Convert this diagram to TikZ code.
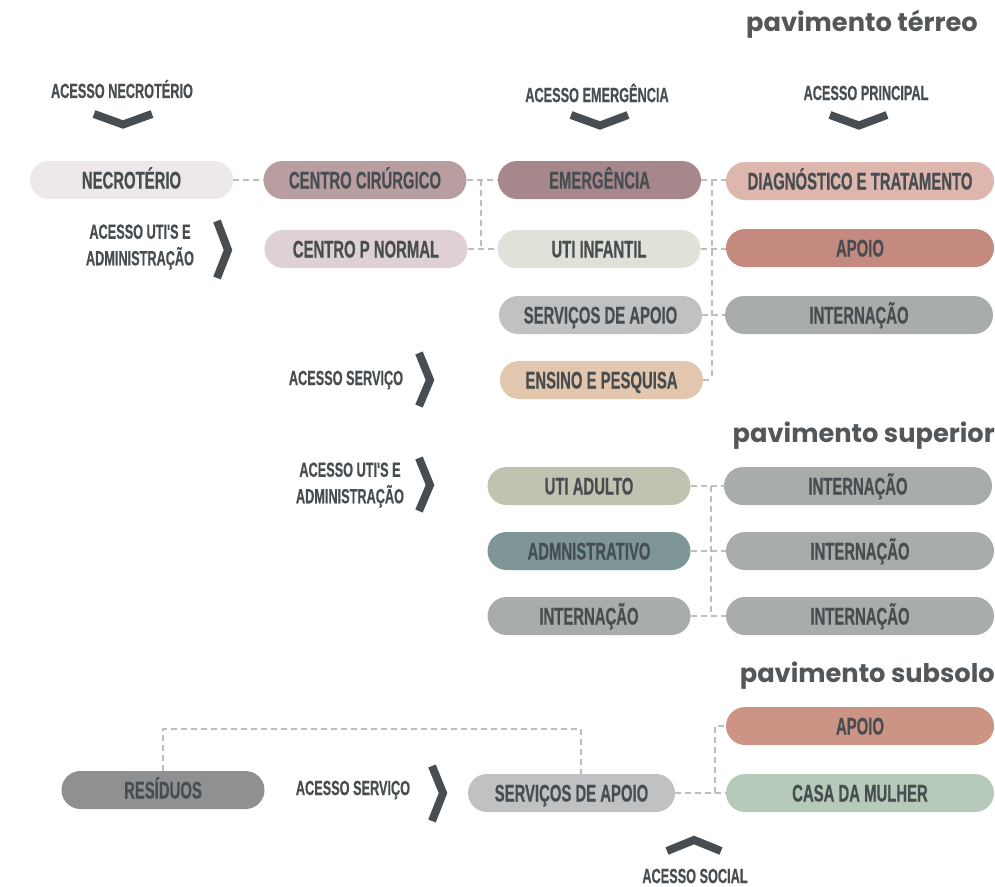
\documentclass[tikz,border=0pt]{standalone}
\usepackage{fontspec}
\newfontfamily\salafont{Liberation Sans}[UprightFont=* Bold,FakeStretch=0.62,FakeBold=0.5]
\newfontfamily\titulofont{Poppins}[UprightFont=* Bold]
\definecolor{texto}{HTML}{474D50}
\definecolor{titulo}{HTML}{53575A}
\definecolor{linha}{HTML}{BAC1B7}
\definecolor{cNecro}{HTML}{EDE8E9}
\definecolor{cCirurg}{HTML}{B99EA1}
\definecolor{cEmerg}{HTML}{A6888C}
\definecolor{cDiag}{HTML}{DDB6AE}
\definecolor{cParto}{HTML}{DFD1D3}
\definecolor{cUtiInf}{HTML}{E0E2DA}
\definecolor{cApoio}{HTML}{C48A80}
\definecolor{cServ}{HTML}{C0C1C3}
\definecolor{cIntern}{HTML}{A8ADAA}
\definecolor{cEnsino}{HTML}{E2C6AE}
\definecolor{cUtiAd}{HTML}{C1C3B0}
\definecolor{cAdm}{HTML}{7F9697}
\definecolor{cApoioSub}{HTML}{CB9484}
\definecolor{cResid}{HTML}{8F9092}
\definecolor{cCasa}{HTML}{B6CAB9}

\begin{document}
\begin{tikzpicture}[x=1pt,y=-1pt,
  sala/.style={rounded corners=19pt, minimum width=203pt, minimum height=38pt, inner sep=0pt,
    text height=17pt, text depth=0pt, text=texto, font=\salafont\fontsize{24}{26}\selectfont},
  larga/.style={sala, minimum width=268pt},
  acesso/.style={text=texto, font=\salafont\fontsize{20.5}{26.5}\selectfont, align=center, inner sep=0pt},
  pavimento/.style={text=titulo, font=\titulofont\fontsize{25.7}{28}\selectfont, anchor=base east, inner sep=0pt},
  ligacao/.style={draw=linha, line width=2.6pt, dash pattern=on 6pt off 4pt},
  seta/.style={draw=texto, line width=8pt}]
\fill[white] (0,0) rectangle (995,886);
\useasboundingbox (0,0) rectangle (995,886);

% ==================== PAVIMENTO TERREO ====================
\node[pavimento] (pTerreo) at (978,31) {pavimento térreo};
% Acessos
\node[acesso] (acNecro) at (122,89) {ACESSO NECROTÉRIO};
\node[acesso] (acEmerg) at (597,93) {ACESSO EMERGÊNCIA};
\node[acesso] (acPrinc) at (866,93) {ACESSO PRINCIPAL};
\node[acesso] (acUti1) at (140,247) {ACESSO UTI'S E\\ADMINISTRAÇÃO};
\node[acesso] (acServ1) at (346,380) {ACESSO SERVIÇO};
\draw[seta] (94,114) -- (123,124.5) -- (152,114);
\draw[seta] (571,115) -- (600,125.5) -- (628,115);
\draw[seta] (830,115) -- (859,125.5) -- (887,115);
\draw[seta] (217,221) -- (228,250) -- (217,278);
\draw[seta] (419,353) -- (430,380) -- (419,406);
% Salas
\node[sala, fill=cNecro] (necro) at (131.5,180) {NECROTÉRIO};
\node[sala, fill=cCirurg] (cirurg) at (365,180) {CENTRO CIRÚRGICO};
\node[sala, fill=cEmerg] (emerg) at (599.5,180) {EMERGÊNCIA};
\node[larga, fill=cDiag] (diag) at (860,181) {DIAGNÓSTICO E TRATAMENTO};
\node[sala, fill=cParto] (cpn) at (366,249) {CENTRO P NORMAL};
\node[sala, fill=cUtiInf] (utiinf) at (599,249) {UTI INFANTIL};
\node[larga, fill=cApoio] (apoio1) at (860,248) {APOIO};
\node[sala, fill=cServ] (serv1) at (600.5,315) {SERVIÇOS DE APOIO};
\node[larga, fill=cIntern] (intern1) at (859,315) {INTERNAÇÃO};
\node[sala, fill=cEnsino] (ensino) at (601.5,380) {ENSINO E PESQUISA};
% Ligacoes
\coordinate (eixoA) at (481,0);
\coordinate (eixoB) at (712,0);
\draw[ligacao] (necro) -- (cirurg);
\draw[ligacao] (cirurg) -- (emerg);
\draw[ligacao] (cpn) -- (utiinf);
\draw[ligacao] (eixoA |- cirurg.east) -- (eixoA |- cpn.east);
\draw[ligacao] (emerg.east) -- (emerg.east -| diag.west);
\draw[ligacao] (utiinf.east) -- (utiinf.east -| apoio1.west);
\draw[ligacao] (serv1) -- (intern1);
\draw[ligacao] (ensino.east) -- (eixoB |- ensino.east);
\draw[ligacao] (eixoB |- emerg.east) -- (eixoB |- ensino.east);

% ==================== PAVIMENTO SUPERIOR ====================
\node[pavimento] (pSuperior) at (995,442) {pavimento superior};
\node[acesso] (acUti2) at (350,485) {ACESSO UTI'S E\\ADMINISTRAÇÃO};
\draw[seta] (419,458) -- (430,485) -- (419,511);
\node[sala, fill=cUtiAd] (utiad) at (589,486) {UTI ADULTO};
\node[larga, fill=cIntern] (intern2) at (858,486) {INTERNAÇÃO};
\node[sala, fill=cAdm] (adm) at (589,551) {ADMNISTRATIVO};
\node[larga, fill=cIntern] (intern3) at (860,551) {INTERNAÇÃO};
\node[sala, fill=cIntern] (internL) at (589,616) {INTERNAÇÃO};
\node[larga, fill=cIntern] (intern4) at (860,616) {INTERNAÇÃO};
\coordinate (eixoC) at (711,0);
\draw[ligacao] (utiad) -- (intern2);
\draw[ligacao] (adm) -- (intern3);
\draw[ligacao] (internL) -- (intern4);
\draw[ligacao] (eixoC |- utiad.east) -- (eixoC |- internL.east);

% ==================== PAVIMENTO SUBSOLO ====================
\node[pavimento] (pSubsolo) at (995,682) {pavimento subsolo};
\node[acesso] (acServ2) at (353,790) {ACESSO SERVIÇO};
\node[acesso] (acSocial) at (695,876) {ACESSO SOCIAL};
\draw[seta] (432,766) -- (443,793) -- (432,821);
\draw[seta] (667,851) -- (694,840) -- (721,851);
\node[larga, fill=cApoioSub] (apoio2) at (860,726) {APOIO};
\node[sala, fill=cResid] (resid) at (163,790) {RESÍDUOS};
\node[sala, fill=cServ, minimum width=207pt] (serv2) at (571.5,793) {SERVIÇOS DE APOIO};
\node[larga, fill=cCasa] (casa) at (860,793) {CASA DA MULHER};
\coordinate (eixoD) at (715,0);
\coordinate (cume) at (0,729);
\draw[ligacao] (serv2) -- (casa);
\draw[ligacao] (eixoD |- casa.west) -- (eixoD |- apoio2.west) -- (apoio2.west);
\draw[ligacao] (resid.north) -- (resid.north |- cume) -- ([xshift=9.5pt]serv2.north |- cume) -- ([xshift=9.5pt]serv2.north);
\end{tikzpicture}
\end{document}
